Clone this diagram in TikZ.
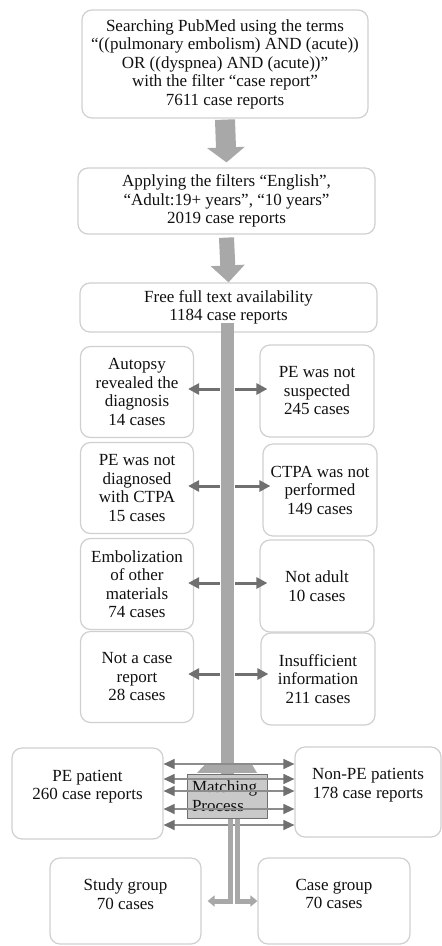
\documentclass[tikz,border=0pt]{standalone}
\usepackage{fontspec}
\setmainfont{Liberation Serif}
\usetikzlibrary{arrows.meta}
\definecolor{boxline}{HTML}{CFCFCF}
\definecolor{bargray}{HTML}{A8A8A8}
\definecolor{arrowgray}{HTML}{707070}
\definecolor{thingray}{HTML}{8C8C8C}
\definecolor{matchfill}{HTML}{C9C9C9}
\definecolor{inkgray}{HTML}{101010}
\begin{document}
\begin{tikzpicture}[x=1pt,y=-1pt,
  box/.style={draw=boxline,line width=1.2pt,rounded corners=10pt,align=center,inner sep=0pt,
    text=inkgray,font=\fontsize{17}{18.5}\selectfont},
  lift/.style={align=center,inner sep=0pt,text=inkgray,font=\fontsize{17}{18.5}\selectfont,yshift=7pt},
  bigarrow/.style={draw=bargray,line width=20pt,-{Triangle[length=15pt,width=37pt]}},
  bar/.style={draw=bargray,line width=13pt},
  sidearrow/.style={draw=arrowgray,line width=3pt,-{Triangle[length=11pt,width=11pt]}},
  matcharrow/.style={draw=thingray,line width=1.2pt,
    {Triangle[length=11pt,width=10pt,color=arrowgray]}-{Triangle[length=11pt,width=10pt,color=arrowgray]}},
  splitarrow/.style={draw=bargray,line width=5pt,-{Triangle[length=7pt,width=11pt]}}]
\useasboundingbox (0,0) rectangle (442,946);

\node[box,minimum width=286pt,minimum height=108pt] (search) at (225,64)
  {Searching PubMed using the terms\\“((pulmonary embolism) AND (acute))\\OR ((dyspnea) AND (acute))”\\with the filter “case report”\\7611 case reports};
\node[box,minimum width=297pt,minimum height=66pt] (filters) at (226.5,201)
  {Applying the filters “English”,\\“Adult:19+ years”, “10 years”\\2019 case reports};
\node[box,minimum width=297pt,minimum height=49pt] (fulltext) at (228.5,307.5)
  {Free full text availability\\1184 case reports};

\node[box,minimum width=113pt,minimum height=91pt] (autopsy) at (137,392) {Autopsy\\revealed the\\diagnosis\\14 cases};
\node[box,minimum width=114pt,minimum height=92pt] (notsusp) at (317,391) {PE was not\\suspected\\245 cases};
\node[box,minimum width=113pt,minimum height=91pt] (notdiag) at (137,488) {PE was not\\diagnosed\\with CTPA\\15 cases};
\node[box,minimum width=114pt,minimum height=92pt] (noctpa) at (320,490) {CTPA was not\\performed\\149 cases};
\node[box,minimum width=113pt,minimum height=91pt] (embol) at (137,584) {Embolization\\of other\\materials\\74 cases};
\node[box,minimum width=114pt,minimum height=92pt] (notadult) at (317,586) {Not adult\\10 cases};
\node[box,minimum width=113pt,minimum height=91pt] (notcase) at (137,677) {Not a case\\report\\28 cases};
\node[box,minimum width=114pt,minimum height=92pt] (insuff) at (318,679) {Insufficient\\information\\211 cases};

\node[box,minimum width=151pt,minimum height=91pt,label={[lift]center:PE patient\\260 case reports}] (pe) at (87.5,793.5) {};
\node[box,minimum width=146pt,minimum height=90pt,label={[lift]center:Non-PE patients\\178 case reports}] (nonpe) at (368,792) {};
\node[box,rounded corners=0pt,draw=arrowgray,fill=matchfill,line width=1pt,minimum width=80pt,minimum height=44pt,
  text width=70pt,align=left] (match) at (227,796) {Matching\\Process};

\node[box,minimum width=151pt,minimum height=86pt,label={[lift]center:Study group\\70 cases}] (study) at (125.5,901) {};
\node[box,minimum width=152pt,minimum height=86pt,label={[lift]center:Case group\\70 cases}] (casegrp) at (334,901) {};

\draw[bigarrow] ([yshift=-1pt]search.south) -- ([yshift=5pt]filters.north);
\draw[bigarrow,line width=15pt,-{Triangle[length=17pt,width=33pt]}] ([yshift=-3pt]filters.south) -- (fulltext.north);

\draw[bar] ([yshift=10pt]fulltext.south -| match.north) -- (match.north);
\fill[bargray] ([xshift=-22pt,yshift=9pt]match.north) -- ([xshift=25pt,yshift=9pt]match.north)
  -- ([xshift=30pt,yshift=0.6pt]match.north) -- ([xshift=-30pt,yshift=0.6pt]match.north) -- cycle;

\foreach \lft/\rgt/\yy in {autopsy/notsusp/389,notdiag/noctpa/486,embol/notadult/583,notcase/insuff/674}{
  \coordinate (barl) at (220,\yy);
  \coordinate (barr) at (235,\yy);
  \draw[sidearrow,shorten >=-6pt] (barl) -- (barl -| \lft.east);
  \draw[sidearrow,shorten >=-8pt] (barr) -- (barr -| \rgt.west);
}

\foreach \yy in {764,779,791,809,825}
  \draw[matcharrow] (pe.east |- 0,\yy) -- (nonpe.west |- 0,\yy);

\draw[splitarrow,shorten >=6pt] ([xshift=3pt]match.south) |- (study.east);
\draw[splitarrow] ([xshift=10pt]match.south) |- (casegrp.west);
\end{tikzpicture}
\end{document}
